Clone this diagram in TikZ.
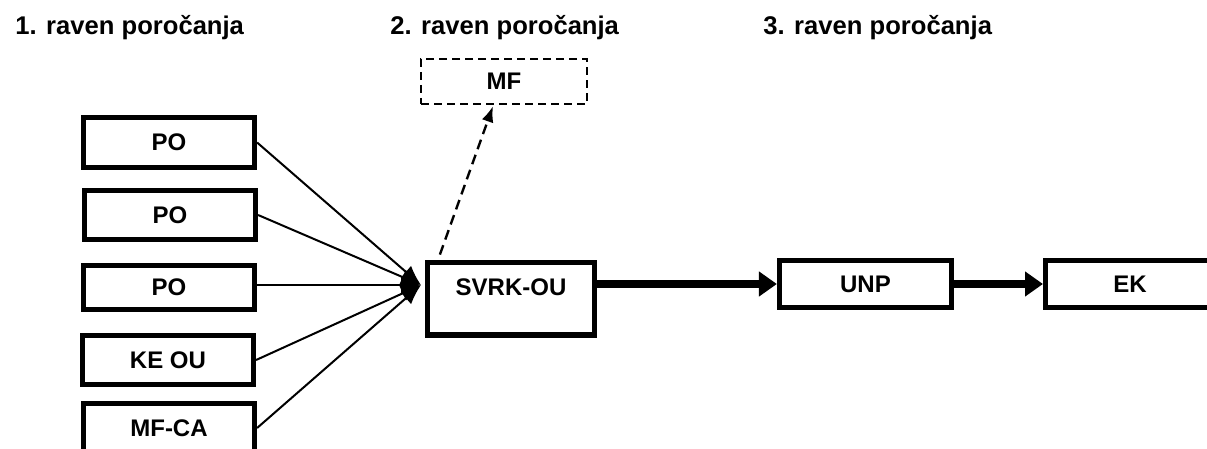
\documentclass[tikz,border=0pt]{standalone}
\usepackage{fontspec}
\setmainfont{Liberation Sans}
\usetikzlibrary{arrows.meta,positioning,calc}

\begin{document}
\begin{tikzpicture}[x=0.5pt,y=-0.5pt,
  levelhead/.style={font=\fontsize{12.8}{15}\selectfont\bfseries, anchor=base west, inner sep=0pt},
  box/.style={draw=black, line width=2.6pt, inner sep=0pt, minimum width=85.5pt,
    font=\fontsize{12}{14}\selectfont\bfseries},
  dbox/.style={draw=black, line width=1.1pt, dash pattern=on 4pt off 2.5pt, inner sep=0pt,
    font=\fontsize{12}{14}\selectfont\bfseries},
  feed/.style={line width=1pt, -{Latex[length=10pt,width=8pt]}},
  mainflow/.style={line width=3.8pt, -{Triangle[length=9pt,width=12pt]}},
  sideflow/.style={line width=1.2pt, dash pattern=on 5pt off 3pt, -{Latex[length=8pt,width=6pt]}}]
\useasboundingbox (0,0) rectangle (1207,449);

  \node[levelhead] (h1) at (15,35) {1. raven poročanja};
  \node[levelhead] (h2) at (390,35) {2. raven poročanja};
  \node[levelhead] (h3) at (763,35) {3. raven poročanja};

  \node[box, minimum height=25pt] (po1) at (169,142.5) {PO};
  \node[box, minimum height=24.5pt] (po2) at (170,215) {PO};
  \node[box, minimum height=22pt] (po3) at (169,287.5) {PO};
  \node[box, minimum height=24.5pt] (keou) at (168,360) {KE OU};
  \node[box, minimum height=24.5pt] (mfca) at (169,428) {MF-CA};

  \node[box, anchor=north, minimum width=83.5pt, text height=16.9pt, text depth=19.5pt] (svrk) at (511,259.6) {SVRK-OU};
  \node[dbox, minimum width=83pt, minimum height=22.5pt] (mf) at (504,81.5) {MF};
  \node[box, minimum width=86pt, minimum height=23.5pt] (unp) at (865.5,284) {UNP};
  \node[box, minimum width=84.4pt, minimum height=23.5pt] (ek) at (1130,284) {EK};

  \coordinate (hub) at (421,285);
  \coordinate (mfstart) at ($(svrk.north west)+(15,-5)$);
  \coordinate (mfend) at ($(mf.south)+(-11,1)$);

  \path [feed](po1.east) edge (hub);
  \path [feed](po2.east) edge (hub);
  \path [feed](po3.east |- hub) edge (hub);
  \path [feed](keou.east) edge (hub);
  \path [feed](mfca.east) edge (hub);

  \path [sideflow](mfstart) edge (mfend);

  \path [mainflow](svrk.east |- unp.west) edge (unp.west);
  \path [mainflow](unp) edge (ek);
\end{tikzpicture}
\end{document}
